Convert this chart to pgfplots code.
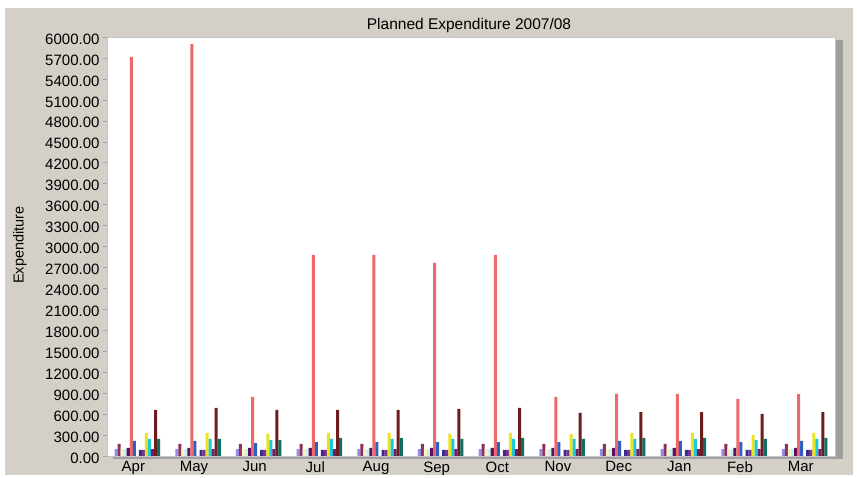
\documentclass[border=0pt]{standalone}
\usepackage{pgfplots}
\pgfplotsset{compat=1.18}
\usepackage{pgfplotstable}
\usepackage{fontspec}
\setmainfont{Liberation Sans}

\definecolor{panel}{HTML}{D4D0C8}
\definecolor{sA}{HTML}{8F8FE8}
\definecolor{sB}{HTML}{8E2F60}
\definecolor{sC}{HTML}{F4F4C0}
\definecolor{sD}{HTML}{C4F0F0}
\definecolor{sE}{HTML}{5C1060}
\definecolor{sF}{HTML}{EE6A6A}
\definecolor{sG}{HTML}{2F5FC0}
\definecolor{sH}{HTML}{CCCCFF}
\definecolor{sI}{HTML}{3C2A8C}
\definecolor{sJ}{HTML}{7B3096}
\definecolor{sK}{HTML}{EAE31E}
\definecolor{sL}{HTML}{1EC8DC}
\definecolor{sM}{HTML}{6E1E6A}
\definecolor{sN}{HTML}{6E1C1C}
\definecolor{sO}{HTML}{0E6E62}

% planned expenditure per month (0 = Apr ... 11 = Mar), 15 series
\pgfplotstableread{
m  a   b   c   d   e   f    g   h  i  j  k   l   n   o   p
0  100 172 100 100 115 5716 215 0  86 86 330 244 100 659 244
1  100 172 100 100 115 5903 215 0  86 86 330 244 100 688 244
2  100 172 100 100 115 845  186 0  86 86 315 229 100 659 229
3  100 172 100 100 115 2880 200 0  86 86 330 244 100 659 258
4  100 172 100 100 115 2880 200 0  86 86 330 244 100 659 258
5  100 172 100 100 115 2765 200 0  86 86 315 244 100 673 244
6  100 172 100 100 115 2880 200 0  86 86 330 244 100 688 258
7  100 172 100 100 115 845  200 0  86 86 315 244 100 616 244
8  100 172 100 100 115 888  215 0  86 86 330 244 100 630 258
9  100 172 100 100 115 888  215 0  86 86 330 244 100 630 258
10 100 172 100 100 115 817  200 0  86 86 301 229 100 602 244
11 100 172 100 100 115 888  215 0  86 86 330 244 100 630 258
}\expdata

\begin{document}
\begin{tikzpicture}
\path[use as bounding box] (0pt,0pt) rectangle (857pt,478pt);
\fill[white] (0pt,0pt) rectangle (857pt,478pt);
\fill[panel] (4pt,3pt) rectangle (853pt,470pt);
\draw[white, line width=1pt] (4pt,3pt) -- (4pt,470pt) -- (853pt,470pt);
% shadow of the plot area
\fill[gray!75] (113pt,19pt) rectangle (843pt,438pt);

\begin{axis}[
  at={(107pt,22pt)}, anchor=south west,
  scale only axis, width=728pt, height=419pt,
  xmin=-0.5, xmax=11.5, ymin=0, ymax=6000,
  ybar=0pt, bar width=0.05,
  axis background/.style={fill=white},
  axis line style={gray!45},
  xtick={0,...,11},
  xticklabels={Apr,May,Jun,Jul,Aug,Sep,Oct,Nov,Dec,Jan,Feb,Mar},
  ytick={0,300,...,6000},
  tick pos=left, tick align=outside, major tick length=4pt,
  tick style={gray!70, thin},
  x tick label style={font=\fontsize{15}{18}\selectfont, xshift=-4pt, yshift=2pt},
  y tick label style={font=\fontsize{15}{18}\selectfont, yshift=-2pt,
    /pgf/number format/.cd, fixed, fixed zerofill, precision=2, 1000 sep={}, assume math mode=true},
  every axis plot/.append style={draw=none},
]
\addplot[fill=sA] table[x=m,y=a] {\expdata};
\addplot[fill=sB] table[x=m,y=b] {\expdata};
\addplot[fill=sC] table[x=m,y=c] {\expdata};
\addplot[fill=sD] table[x=m,y=d] {\expdata};
\addplot[fill=sE] table[x=m,y=e] {\expdata};
\addplot[fill=sF] table[x=m,y=f] {\expdata};
\addplot[fill=sG] table[x=m,y=g] {\expdata};
\addplot[fill=sH] table[x=m,y=h] {\expdata};
\addplot[fill=sI] table[x=m,y=i] {\expdata};
\addplot[fill=sJ] table[x=m,y=j] {\expdata};
\addplot[fill=sK] table[x=m,y=k] {\expdata};
\addplot[fill=sL] table[x=m,y=l] {\expdata};
\addplot[fill=sM] table[x=m,y=n] {\expdata};
\addplot[fill=sN] table[x=m,y=o] {\expdata};
\addplot[fill=sO] table[x=m,y=p] {\expdata};
\end{axis}

\node[font=\fontsize{15.5}{18}\selectfont] at (469pt,452pt) {Planned Expenditure 2007/08};
\node[rotate=90, font=\fontsize{14.5}{17}\selectfont] at (20pt,233pt) {Expenditure};
\end{tikzpicture}
\end{document}
